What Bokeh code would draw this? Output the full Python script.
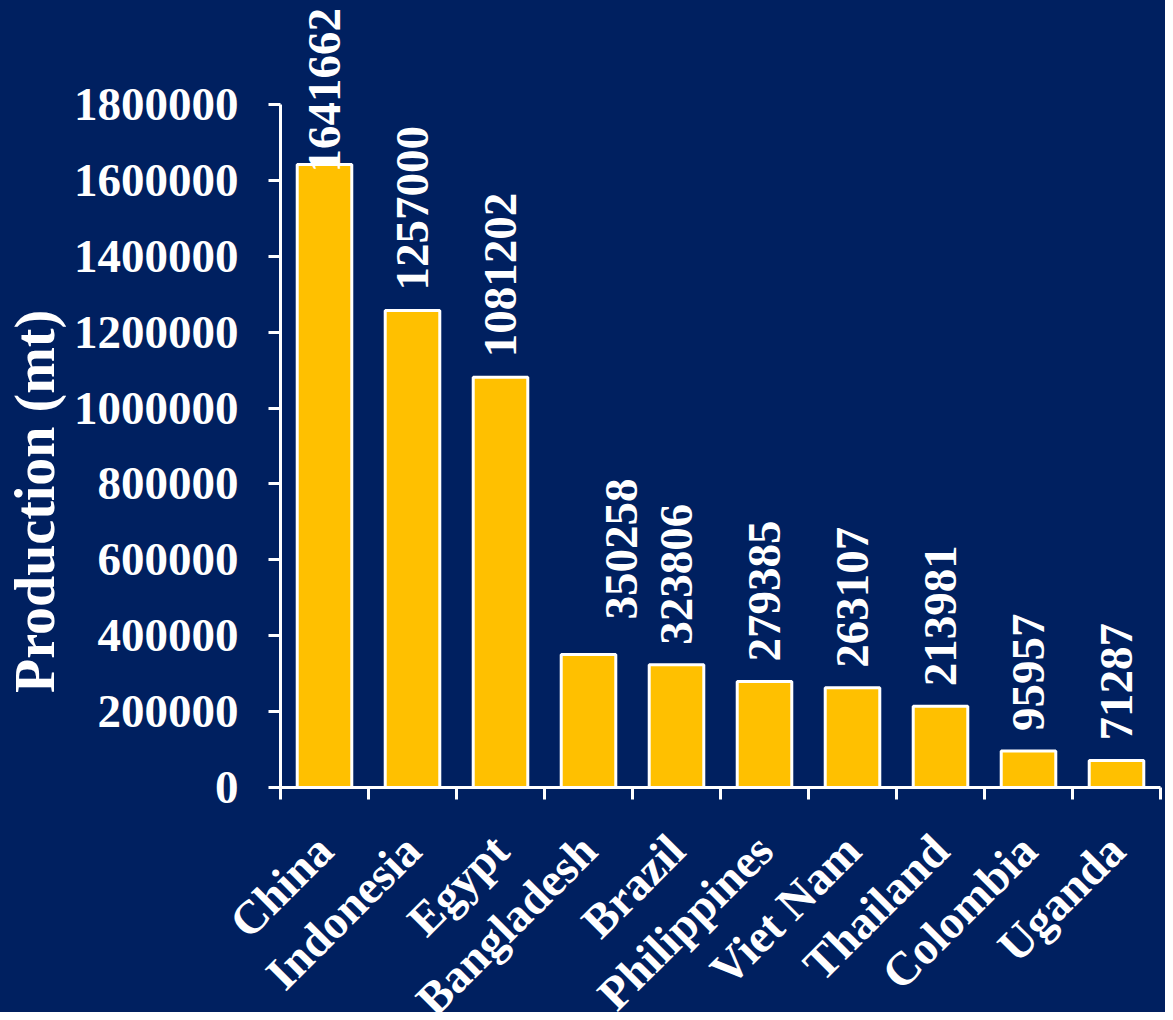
import math
from bokeh.plotting import figure
from bokeh.models import (ColumnDataSource, Range1d, LinearAxis, FixedTicker,
                          NumeralTickFormatter, CustomJSTickFormatter)
from bokeh.core.properties import value
from bokeh.embed import file_html
from bokeh.resources import INLINE

# ---- data ----
countries = ["China", "Indonesia", "Egypt", "Bangladesh", "Brazil",
             "Philippines", "Viet Nam", "Thailand", "Colombia", "Uganda"]
production = [1641662, 1257000, 1081202, 350258, 323806,
              279385, 263107, 213981, 95957, 71287]
y_ticks = [0, 200000, 400000, 600000, 800000, 1000000,
           1200000, 1400000, 1600000, 1800000]
y_title = "Production (mt)"

# ---- styling (label nudges in px) ----
label_dx = [0, 0, 0, 33, 0, 0, 0, 0, 0, 0]
label_dy = [8, -20, -20, -35, -20, -20, -20, -20, -20, -20]

BG = "#002060"
BAR = "#FFC000"
FONT = "Liberation Serif"
FS = "47px"

# layout: the frame fills the whole canvas, axes are pinned at value 0
W, H = 1165, 1012
AXIS_X, AXIS_Y = 280, 787          # pixel column / row of the two axes
PX_PER_CAT = 88
PX_PER_UNIT = 683 / y_ticks[-1]
TITLE_CENTER_PX = 286              # title centre, px above the x axis

n = len(countries)
xs = [i + 0.5 for i in range(n)]
src = ColumnDataSource(dict(x=xs, top=production,
                            label=[str(v) for v in production],
                            dx=label_dx, dy=label_dy))

x_range = Range1d(-AXIS_X / PX_PER_CAT, (W - AXIS_X) / PX_PER_CAT)
y_range = Range1d(-(H - AXIS_Y) / PX_PER_UNIT, AXIS_Y / PX_PER_UNIT)

p = figure(width=W, height=H, output_backend="svg", toolbar_location=None,
           x_range=x_range, y_range=y_range,
           x_axis_type=None, y_axis_type=None, min_border=0,
           styles={"background-color": BG})
p.background_fill_color = BG
p.border_fill_color = BG
p.outline_line_color = None
p.grid.visible = False

p.vbar(x="x", top="top", bottom=0, width=0.62, source=src,
       fill_color=BAR, line_color="white", line_width=3)

p.text(x="x", y="top", text="label", source=src, angle=math.pi / 2,
       x_offset="dx", y_offset="dy", text_align="left", text_baseline="middle",
       text_font=value(FONT), text_font_style="bold", text_font_size=FS,
       text_color="white")

# y axis
yax = LinearAxis(ticker=FixedTicker(ticks=y_ticks),
                 formatter=NumeralTickFormatter(format="0"),
                 bounds=(0, y_ticks[-1]), fixed_location=0)
yax.axis_line_color = "white"
yax.axis_line_width = 3
yax.major_tick_line_color = "white"
yax.major_tick_line_width = 3
yax.major_tick_out = 12
yax.major_tick_in = 0
yax.minor_tick_line_color = None
yax.major_label_standoff = 30
yax.major_label_text_font = FONT
yax.major_label_text_font_style = "bold"
yax.major_label_text_font_size = FS
yax.major_label_text_color = "white"
p.add_layout(yax, "left")

# y title (carried by a bare axis so it can be centred where the original is)
t_mid = TITLE_CENTER_PX / PX_PER_UNIT
tax = LinearAxis(ticker=FixedTicker(ticks=[]), bounds=(0, 2 * t_mid),
                 fixed_location=0)
tax.axis_line_color = None
tax.major_tick_line_color = None
tax.minor_tick_line_color = None
tax.major_tick_out = 0
tax.major_tick_in = 0
tax.major_label_standoff = 0
tax.axis_label = y_title
tax.axis_label_standoff = 215
tax.axis_label_text_font = FONT
tax.axis_label_text_font_style = "bold"
tax.axis_label_text_font_size = "56px"
tax.axis_label_text_color = "white"
p.add_layout(tax, "left")

# x axis: boundary ticks (minor), names at centres
xax = LinearAxis(ticker=FixedTicker(ticks=xs, minor_ticks=list(range(n + 1))),
                 formatter=CustomJSTickFormatter(
                     args=dict(names=countries),
                     code="return names[Math.floor(tick)] || '';"),
                 bounds=(0, n), fixed_location=0)
xax.axis_line_color = "white"
xax.axis_line_width = 3
xax.major_tick_line_color = None
xax.major_tick_out = 0
xax.major_tick_in = 0
xax.minor_tick_line_color = "white"
xax.minor_tick_line_width = 3
xax.minor_tick_out = 12
xax.minor_tick_in = 0
xax.major_label_orientation = math.pi / 4
xax.major_label_standoff = 43
xax.major_label_text_font = FONT
xax.major_label_text_font_style = "bold"
xax.major_label_text_font_size = FS
xax.major_label_text_color = "white"
p.add_layout(xax, "below")

open("out.html", "w").write(file_html(p, INLINE))
